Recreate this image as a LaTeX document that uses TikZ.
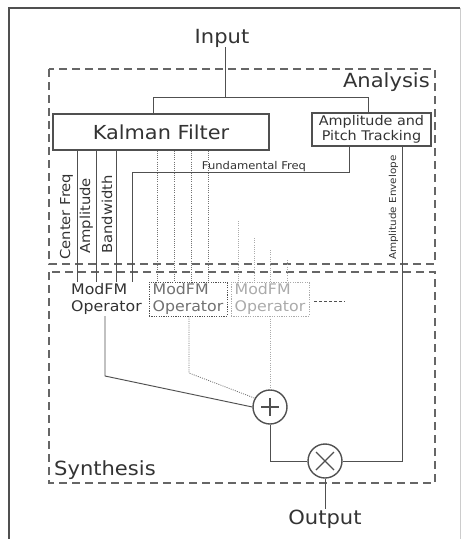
\documentclass[tikz,border=0pt]{standalone}
\usepackage{fontspec}
\setmainfont{DejaVu Sans}[FakeStretch=1.08]
\usetikzlibrary{calc}
\definecolor{txt}{HTML}{333333}
\definecolor{ln}{HTML}{505050}
\definecolor{dsh}{HTML}{666666}
\definecolor{midg}{HTML}{707070}
\definecolor{lite}{HTML}{AAAAAA}
\newcommand\fsz[2]{\fontsize{#1}{#2}\selectfont}
\begin{document}
\begin{tikzpicture}[x=1pt,y=-1pt,
  every node/.style={text=txt,inner sep=0pt},
  conn/.style={draw=ln,line width=0.95pt},
  dots/.style={draw=ln!80,line width=0.8pt,dash pattern=on 1pt off 1.2pt},
  litedots/.style={draw=lite,line width=0.8pt,dash pattern=on 1pt off 1.2pt},
  region/.style={draw=dsh,line width=1.05pt,dash pattern=on 8pt off 5pt},
  box/.style={draw=ln,line width=1.05pt,fill=white},
  big/.style={font=\fsz{19.5}{23}},
  vlbl/.style={font=\fsz{13.7}{16},rotate=90,anchor=base west},
  opbox/.style={minimum width=78pt,minimum height=34pt,align=left,font=\fsz{14.6}{17}},
  sumnode/.style={circle,draw=ln,line width=1.4pt,minimum size=34pt}]
\useasboundingbox (0,0) rectangle (463,539);
% outer frame
\draw[ln,line width=1.2pt] (9,539) -- (9,8) -- (460,8);
\draw[lite!60,line width=0.8pt] (460,8) -- (460,539);
% regions
\draw[region] (49,69) rectangle (435,264);
\draw[region] (49,272) rectangle (435,483);
\node[big,anchor=base east] (analysis) at (430,87) {Analysis};
\node[big,anchor=base west] (synthesis) at (54,475) {Synthesis};
% main nodes
\node[big,anchor=base] (input) at (222,43) {Input};
\node[big,anchor=base] (output) at (325,524) {Output};
\node[box,minimum width=216pt,minimum height=36pt,font=\fsz{19.3}{22}] (kal) at (161,132) {Kalman Filter};
\node[box,minimum width=119pt,minimum height=33pt,align=center,font=\fsz{13.3}{15.4}] (apt) at (371.5,129.5) {Amplitude and\\Pitch Tracking};
\node[opbox,minimum width=73pt] (op1) at (106.5,299) {ModFM\\Operator};
\node[opbox,draw=ln,line width=0.9pt,dash pattern=on 1.2pt off 1.2pt,text=midg] (op2) at (188,299) {ModFM\\Operator};
\node[opbox,draw=lite,line width=0.9pt,dash pattern=on 1.2pt off 1.2pt,text=lite] (op3) at (270,299) {ModFM\\Operator};
\node[sumnode] (plus) at (270,407) {};
\node[sumnode] (times) at (325,461) {};
\draw[ln,line width=1.3pt] ($(plus.center)+(-9,0)$) -- ($(plus.center)+(9,0)$)
  ($(plus.center)+(0,-9)$) -- ($(plus.center)+(0,9)$);
\draw[ln,line width=1.3pt] ($(times.center)+(-9,-9)$) -- ($(times.center)+(9,9)$)
  ($(times.center)+(-9,9)$) -- ($(times.center)+(9,-9)$);
% input split
\coordinate (sp) at (225,97);
\coordinate (kin) at (153,97);
\coordinate (ain) at (368,97);
\draw[conn] (input.south -| sp) -- (sp);
\draw[conn] (kal.north -| kin) -- (kin) -- (ain) -- (apt.north -| ain);
% Kalman outputs to first operator
\coordinate (c1) at (77,200);
\coordinate (c2) at (96,200);
\coordinate (c3) at (116,200);
\draw[conn] (kal.south -| c1) -- (op1.north -| c1);
\draw[conn] (kal.south -| c2) -- (op1.north -| c2);
\draw[conn] (kal.south -| c3) -- (op1.north -| c3);
\node[vlbl] (lcf) at (70,260) {Center Freq};
\node[vlbl] (lam) at (90,254) {Amplitude};
\node[vlbl] (lbw) at (112,254) {Bandwidth};
% fundamental freq
\coordinate (ff) at (349,172);
\coordinate (ff2) at (132,172);
\draw[conn] (apt.south -| ff) -- (ff) -- (ff2) -- (op1.north -| ff2);
\node[font=\fsz{10.7}{12},anchor=base] (lff) at (254,169) {Fundamental Freq};
% dotted lines to second operator
\foreach \xx in {157,174,191,208}{
  \coordinate (d) at (\xx,200);
  \draw[dots] (kal.south -| d) -- (op2.north -| d);
}
% light dotted lines to third operator
\coordinate (e1) at (238,221);
\coordinate (e2) at (254,238);
\coordinate (e3) at (270,250);
\coordinate (e4) at (287,260);
\draw[litedots] (e1) -- (op3.north -| e1);
\draw[litedots] (e2) -- (op3.north -| e2);
\draw[litedots] (e3) -- (op3.north -| e3);
\draw[litedots] (e4) -- (op3.north -| e4);
% more operators
\coordinate (m1) at (314,301);
\coordinate (m2) at (345,301);
\draw[ln,line width=0.8pt,dash pattern=on 3pt off 2pt] (m1) -- (m2);
% amplitude envelope
\coordinate (ae) at (402,461);
\draw[conn] (apt.south -| ae) -- (ae) -- (times.east);
\node[font=\fsz{9.6}{11},rotate=90,anchor=base west] (lae) at (396,260) {Amplitude Envelope};
% synthesis connections
\coordinate (b1) at (105,376);
\draw[conn] (op1.south -| b1) -- (b1) -- (plus.west);
\coordinate (b2) at (189,373);
\draw[dots] (op2.south -| b2) -- (b2) -- (plus.150);
\draw[litedots] (op3.south -| plus.north) -- (plus.north);
\coordinate (b3) at (270,461);
\draw[conn] (plus.south) -- (b3) -- (times.west);
\draw[conn] (times.south) -- (output.north);
\end{tikzpicture}
\end{document}
